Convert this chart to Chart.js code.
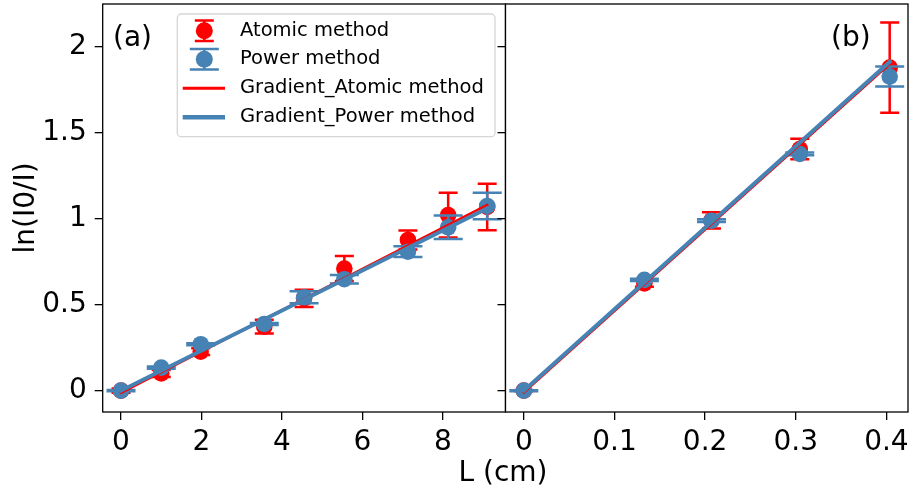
<!DOCTYPE html>
<html><head><meta charset="utf-8">
<script src="https://cdn.jsdelivr.net/npm/chart.js@4"></script>
<style>
html,body{margin:0;padding:0;background:#fff;width:913px;height:496px;overflow:hidden;}
canvas{position:absolute;top:0;}
#c1{left:0;}
#c2{left:490px;}
#xlabel{position:absolute;left:353px;width:300px;top:458px;text-align:center;font-family:'DejaVu Sans';font-size:28px;line-height:28px;color:#000;white-space:nowrap;}
</style></head><body>
<canvas id="c1" width="506" height="496"></canvas>
<canvas id="c2" width="423" height="496"></canvas>
<div id="xlabel">L (cm)</div>
<script>
// ---- data: panel (a) ----
const L_a         = [0, 1, 1.98, 3.56, 4.55, 5.55, 7.13, 8.13, 9.1];
const atomic_a    = [0, 0.10, 0.227, 0.372, 0.537, 0.71, 0.876, 1.021, 1.068];
const atomicErr_a = [0.012, 0.02, 0.02, 0.04, 0.05, 0.073, 0.055, 0.13, 0.135];
const power_a     = [0, 0.134, 0.27, 0.388, 0.543, 0.648, 0.808, 0.95, 1.074];
const powerErr_a  = [0.004, 0.006, 0.006, 0.006, 0.035, 0.025, 0.031, 0.068, 0.077];
const fitX_a         = [0, 9.1];
const fitAtomic_a    = [-0.012, 1.08];
const fitPower_a     = [0, 1.06];
// ---- data: panel (b) ----
const L_b         = [0, 0.133, 0.207, 0.3044, 0.4036];
const atomic_b    = [0, 0.624, 0.99, 1.405, 1.878];
const atomicErr_b = [0.004, 0.02, 0.047, 0.06, 0.262];
const power_b     = [0, 0.644, 0.988, 1.376, 1.826];
const powerErr_b  = [0.003, 0.006, 0.008, 0.008, 0.058];
const fitX_b         = [0, 0.4036];
const fitAtomic_b    = [-0.01, 1.90];
const fitPower_b     = [0, 1.912];
// ---- ticks ----
const xTicks_a = [0, 2, 4, 6, 8];
const xTicks_b = [0, 0.1, 0.2, 0.3, 0.4];
const yTicks   = [0, 0.5, 1, 1.5, 2];
const labels = ['Atomic method', 'Power method', 'Gradient_Atomic method', 'Gradient_Power method'];
const panelTags = ['(a)', '(b)'];

const RED = '#ff0000', BLUE = '#4682b4';
const FONT = {family: "'DejaVu Sans'", size: 28};
const zip = (xs, ys) => xs.map((x, i) => ({x, y: ys[i]}));

const errorBars = {
  id: 'errorBars',
  beforeDatasetDraw(chart, args) {
    const ds = chart.data.datasets[args.index];
    if (!ds.errors) return;
    const ctx = chart.ctx;
    const xs = chart.scales[args.meta.xAxisID], ys = chart.scales[args.meta.yAxisID];
    ctx.save();
    ctx.strokeStyle = ds.backgroundColor;
    ctx.lineWidth = 2.5;
    ds.data.forEach((p, i) => {
      const e = ds.errors[i];
      const px = xs.getPixelForValue(p.x);
      const t = ys.getPixelForValue(p.y + e), b = ys.getPixelForValue(p.y - e);
      ctx.beginPath();
      ctx.moveTo(px, t); ctx.lineTo(px, b);
      ctx.moveTo(px - ds.capHalf, t); ctx.lineTo(px + ds.capHalf, t);
      ctx.moveTo(px - ds.capHalf, b); ctx.lineTo(px + ds.capHalf, b);
      ctx.stroke();
    });
    ctx.restore();
  }
};

const frame = {
  id: 'frame',
  afterDatasetsDraw(chart, args, opts) {
    const {ctx, chartArea: a} = chart;
    ctx.save();
    ctx.strokeStyle = '#000';
    ctx.lineWidth = 1.3;
    ctx.strokeRect(a.left, a.top, a.right - a.left, a.bottom - a.top);
    ctx.fillStyle = '#000';
    ctx.font = "28px 'DejaVu Sans'";
    ctx.textBaseline = 'alphabetic';
    ctx.fillText(opts.tag, opts.tagX, 45.5);
    ctx.restore();
  }
};

const legendBox = {
  id: 'legendBox',
  afterDraw(chart, args, opts) {
    if (!opts.show) return;
    const ctx = chart.ctx;
    const ds = chart.data.datasets;
    ctx.save();
    ctx.beginPath();
    ctx.roundRect(177.3, 14, 317.7, 122.7, 4);
    ctx.fillStyle = 'rgba(255,255,255,0.8)';
    ctx.fill();
    ctx.strokeStyle = 'rgba(204,204,204,0.8)';
    ctx.lineWidth = 1.3;
    ctx.stroke();
    const rows = [30.7, 59.3, 88.3, 117.3];
    const hx = 204.3;
    ds.forEach((d, i) => {
      const y = rows[i];
      if (d.errors) {
        ctx.strokeStyle = d.backgroundColor;
        ctx.lineWidth = 2.5;
        ctx.beginPath();
        ctx.moveTo(hx, y - 10.3); ctx.lineTo(hx, y + 10.3);
        ctx.moveTo(hx - d.capHalf, y - 10.3); ctx.lineTo(hx + d.capHalf, y - 10.3);
        ctx.moveTo(hx - d.capHalf, y + 10.3); ctx.lineTo(hx + d.capHalf, y + 10.3);
        ctx.stroke();
        ctx.fillStyle = d.backgroundColor;
        ctx.beginPath(); ctx.arc(hx, y, 8.5, 0, Math.PI * 2); ctx.fill();
      } else {
        ctx.strokeStyle = d.borderColor;
        ctx.lineWidth = d.borderWidth + 0.5;
        ctx.beginPath(); ctx.moveTo(182.7, y); ctx.lineTo(225, y); ctx.stroke();
      }
      ctx.fillStyle = '#000';
      ctx.font = "19.5px 'DejaVu Sans'";
      ctx.textBaseline = 'middle';
      ctx.fillText(d.label, 240, y);
    });
    ctx.restore();
  }
};

function datasets(L, at, atE, pw, pwE, fx, fa, fp) {
  return [
    {label: labels[0], data: zip(L, at), errors: atE, capHalf: 9.5, backgroundColor: RED,
     pointRadius: 8.3, pointBorderWidth: 0, borderWidth: 0, showLine: false, order: 4},
    {label: labels[1], data: zip(L, pw), errors: pwE, capHalf: 14.5, backgroundColor: BLUE,
     pointRadius: 8.3, pointBorderWidth: 0, borderWidth: 0, showLine: false, order: 3},
    {label: labels[2], data: zip(fx, fa), showLine: true, borderColor: RED, backgroundColor: RED,
     borderWidth: 2.5, pointRadius: 0, borderCapStyle: 'square', order: 2},
    {label: labels[3], data: zip(fx, fp), showLine: true, borderColor: BLUE, backgroundColor: BLUE,
     borderWidth: 4, pointRadius: 0, borderCapStyle: 'square', order: 1}
  ];
}

const gridOpts = {display: true, drawOnChartArea: false, drawTicks: true, tickLength: 8, color: '#000', lineWidth: 1.3};
const noPad = s => { s.paddingTop = 0; s.paddingBottom = 0; s.paddingLeft = 0; s.paddingRight = 0; };

function makeChart(id, ds, xmin, xmax, xt, yWidth, showYLabels, padRight, tag, tagX, showLegend) {
  return new Chart(document.getElementById(id), {
    type: 'scatter',
    data: {datasets: ds},
    plugins: [errorBars, frame, legendBox],
    options: {
      responsive: false, animation: false, devicePixelRatio: 1,
      layout: {autoPadding: false, padding: {left: 0, right: padRight, top: 4, bottom: 0}},
      plugins: {legend: {display: false}, tooltip: {enabled: false},
                frame: {tag, tagX}, legendBox: {show: showLegend}},
      scales: {
        x: {type: 'linear', min: xmin, max: xmax,
            afterBuildTicks: s => { s.ticks = xt.map(v => ({value: v})); },
            afterFit: s => { s.height = 84; noPad(s); },
            ticks: {font: FONT, color: '#000', padding: 6, maxRotation: 0, autoSkip: false,
                    callback: v => String(v)},
            grid: gridOpts, border: {display: false}},
        y: {type: 'linear', min: -0.124, max: 2.248,
            afterBuildTicks: s => { s.ticks = yTicks.map(v => ({value: v})); },
            afterFit: s => { s.width = yWidth; noPad(s); },
            ticks: {font: FONT, color: '#000', padding: 8, autoSkip: false,
                    callback: v => showYLabels ? String(v) : ''},
            title: {display: showYLabels, text: 'ln(I0/I)', font: FONT, color: '#000',
                    padding: {top: 10, bottom: 4}},
            grid: gridOpts, border: {display: false}}
      }
    }
  });
}

makeChart('c1', datasets(L_a, atomic_a, atomicErr_a, power_a, powerErr_a, fitX_a, fitAtomic_a, fitPower_a),
          -0.455, 9.555, xTicks_a, 102.7, true, 0.5, panelTags[0], 113, true);
makeChart('c2', datasets(L_b, atomic_b, atomicErr_b, power_b, powerErr_b, fitX_b, fitAtomic_b, fitPower_b),
          -0.0202, 0.4238, xTicks_b, 15.5, false, 5, panelTags[1], 831 - 490, false);
</script>
</body></html>
